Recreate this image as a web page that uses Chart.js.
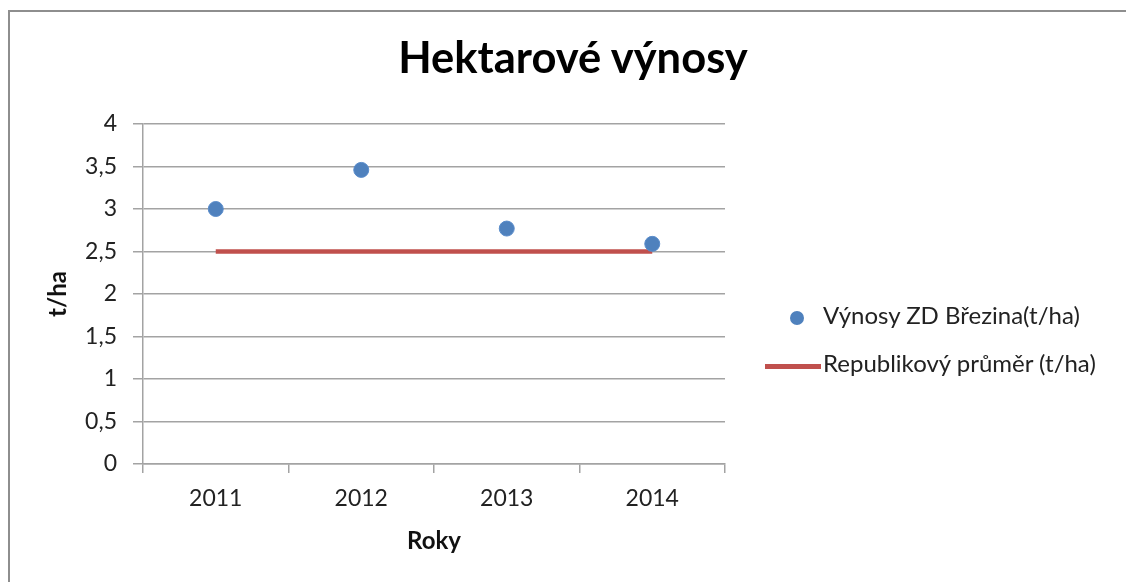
<!DOCTYPE html>
<html>
<head>
<meta charset="utf-8">
<script src="https://cdn.jsdelivr.net/npm/chart.js@4/dist/chart.umd.min.js"></script>
<style>
  html, body { margin: 0; padding: 0; background: #fff; }
  #wrap { position: relative; width: 1126px; height: 582px; overflow: hidden; font-family: Lato, sans-serif; }
  #frame { position: absolute; left: 8px; top: 10px; width: 1200px; height: 700px;
           border-left: 2.5px solid #8e8e8e; border-top: 2.5px solid #8e8e8e; }
  #title { position: absolute; left: 0; width: 1146px; top: 30px; text-align: center;
           font-size: 43.5px; font-weight: 700; color: #000; }
  .leg { position: absolute; left: 823px; font-size: 24px; color: #222; white-space: nowrap; line-height: 28px; }
  #c { position: absolute; left: 0; top: 0; }
</style>
</head>
<body>
<div id="wrap">
  <div id="frame"></div>
  <canvas id="c" width="1126" height="582"></canvas>
  <div id="title">Hektarové výnosy</div>
  <div id="legend"></div>
</div>
<script>
// ── Data ─────────────────────────────────────────────────────────
const years      = ["2011", "2012", "2013", "2014"];
const yieldsZD   = [3.0, 3.46, 2.77, 2.59];   // Výnosy ZD Březina (t/ha)
const avgRepub   = [2.5, 2.5, 2.5, 2.5];      // Republikový průměr (t/ha)
const yTicks     = [0, 0.5, 1, 1.5, 2, 2.5, 3, 3.5, 4];

const seriesNames = ["Výnosy ZD Březina(t/ha)", "Republikový průměr (t/ha)"];
const BLUE = "#4f81bd";
const RED  = "#c0504d";
const GRID = "#a3a3a3";
const TXT  = "#222";

const tickFont  = { family: "Lato", size: 23 };
const titleFont = { family: "Lato", size: 24, weight: "bold" };

new Chart(document.getElementById("c"), {
  type: "line",
  data: {
    labels: years,
    datasets: [
      {
        label: seriesNames[0],
        data: yieldsZD,
        showLine: false,
        pointRadius: 7.5,
        pointHoverRadius: 7.5,
        pointBackgroundColor: BLUE,
        pointBorderColor: "#5a8ccb",
        pointBorderWidth: 1,
        order: 1,
      },
      {
        label: seriesNames[1],
        data: avgRepub,
        borderColor: RED,
        borderWidth: 4.5,
        pointRadius: 0,
        fill: false,
        order: 2,
      },
    ],
  },
  options: {
    responsive: false,
    animation: false,
    layout: { padding: { left: 38, right: 401, top: 124, bottom: 20 } },
    plugins: {
      legend: { display: false },
      title: { display: false },
      tooltip: { enabled: false },
    },
    scales: {
      x: {
        type: "category",
        offset: true,
        grid: { offset: true, drawOnChartArea: false, drawTicks: true, tickLength: 9, color: GRID, lineWidth: 1.5 },
        border: { display: true, color: GRID, width: 1.5 },
        ticks: { color: TXT, font: tickFont, padding: 12, maxRotation: 0 },
        title: { display: true, text: "Roky", color: "#111", font: titleFont, padding: { top: 0, bottom: 6 } },
        afterFit: s => { s.height = 98; },
      },
      y: {
        min: 0,
        max: 4,
        afterBuildTicks: s => { s.ticks = yTicks.map(v => ({ value: v })); },
        grid: { drawTicks: true, tickLength: 10, color: GRID, lineWidth: 1.5 },
        border: { display: true, color: GRID, width: 1.5 },
        ticks: {
          color: TXT,
          font: tickFont,
          padding: 16,
          callback: v => String(v).replace(".", ","),
        },
        title: { display: true, text: "t/ha", color: "#111", font: titleFont, padding: { top: 6, bottom: 0 } },
        afterFit: s => { s.width = 105; },
      },
    },
  },
});

// ── Legend (right side) ──────────────────────────────────────────
function renderLegend() {
  const el = document.getElementById("legend");
  el.innerHTML = `
    <span style="position:absolute;left:790px;top:311px;width:14px;height:14px;border-radius:50%;background:${BLUE}"></span>
    <div class="leg" style="top:301px">${seriesNames[0]}</div>
    <span style="position:absolute;left:765px;top:364px;width:56px;height:4.5px;background:${RED}"></span>
    <div class="leg" style="top:349px">${seriesNames[1]}</div>`;
}
renderLegend();
</script>
</body>
</html>
